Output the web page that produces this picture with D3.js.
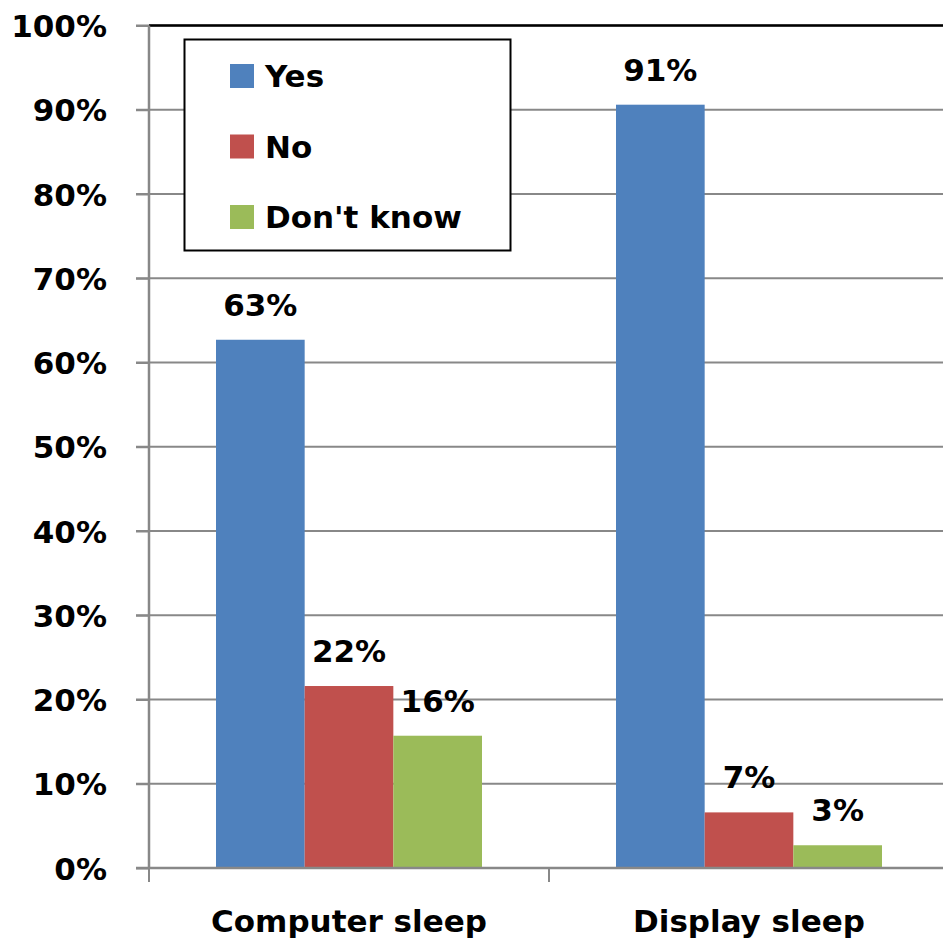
<!DOCTYPE html>
<html>
<head>
<meta charset="utf-8">
<script src="https://cdn.jsdelivr.net/npm/d3@7"></script>
<style>
  html, body { margin: 0; padding: 0; background: #fff; }
  svg { display: block; }
  text { font-family: "DejaVu Sans", sans-serif; font-weight: 700; fill: #000; }
</style>
</head>
<body>
<svg id="chart" width="943" height="949"></svg>
<script>
// Survey results: share of respondents per answer, by power-management feature
const categories = ["Computer sleep", "Display sleep"];
const seriesNames = ["Yes", "No", "Don't know"];
const yesValues = [0.627, 0.906];
const noValues = [0.216, 0.066];
const dontKnowValues = [0.157, 0.027];
const yTicks = [0, 0.1, 0.2, 0.3, 0.4, 0.5, 0.6, 0.7, 0.8, 0.9, 1.0];
const seriesColors = ["#4F81BD", "#C0504D", "#9BBB59"];

const seriesValues = [yesValues, noValues, dontKnowValues];
const rows = categories.map((c, i) => ({
  category: c,
  values: seriesNames.map((s, j) => ({ series: s, value: seriesValues[j][i] }))
}));

const FONT_SIZE = 31;
const svg = d3.select("#chart");
const plot = { left: 149, right: 949, top: 25.5, bottom: 868 };

const x0 = d3.scaleBand()
  .domain(categories)
  .range([plot.left, plot.right])
  .paddingInner(0.335)
  .paddingOuter(0.1675);
const x1 = d3.scaleBand()
  .domain(seriesNames)
  .range([0, x0.bandwidth()]);
const y = d3.scaleLinear().domain([0, 1]).range([plot.bottom, plot.top]);
const color = d3.scaleOrdinal().domain(seriesNames).range(seriesColors);
const pct = d3.format(".0%");

// Horizontal gridlines (the 100% line is the black plot border)
svg.append("g")
  .selectAll("line")
  .data(yTicks.filter(t => t > 0))
  .join("line")
  .attr("x1", plot.left - 13)
  .attr("x2", plot.right)
  .attr("y1", d => y(d))
  .attr("y2", d => y(d))
  .attr("stroke", "#888")
  .attr("stroke-width", 2);

svg.append("line")
  .attr("x1", plot.left).attr("x2", plot.right)
  .attr("y1", y(1)).attr("y2", y(1))
  .attr("stroke", "#000").attr("stroke-width", 2.5);

// Bars
const groups = svg.append("g")
  .selectAll("g")
  .data(rows)
  .join("g")
  .attr("transform", d => `translate(${x0(d.category)},0)`);

groups.selectAll("rect")
  .data(d => d.values)
  .join("rect")
  .attr("x", d => x1(d.series))
  .attr("width", x1.bandwidth())
  .attr("y", d => y(d.value))
  .attr("height", d => y(0) - y(d.value))
  .attr("fill", d => color(d.series));

// Value labels above each bar
groups.selectAll("text")
  .data(d => d.values)
  .join("text")
  .attr("x", d => x1(d.series) + x1.bandwidth() / 2)
  .attr("y", d => y(d.value) - 24)
  .attr("text-anchor", "middle")
  .attr("font-size", FONT_SIZE)
  .text(d => pct(d.value));

// Y axis
const yAxis = d3.axisLeft(y)
  .tickValues(yTicks)
  .tickFormat(pct)
  .tickSize(13)
  .tickPadding(29);
const gy = svg.append("g")
  .attr("transform", `translate(${plot.left},0)`)
  .call(yAxis);
gy.select(".domain").attr("stroke", "#888").attr("stroke-width", 2.5)
  .attr("d", `M0,${y(1)}V${y(0)}`);
gy.selectAll(".tick line").attr("stroke", "#888").attr("stroke-width", 2);
gy.selectAll(".tick text")
  .attr("font-size", FONT_SIZE)
  .attr("font-family", null)
  .attr("dy", "0.36em");

// X axis with category boundaries as tick marks
const xb = d3.scaleLinear().domain([0, categories.length]).range([plot.left, plot.right]);
const gx = svg.append("g");
gx.append("line")
  .attr("x1", plot.left - 13).attr("x2", plot.right)
  .attr("y1", y(0)).attr("y2", y(0))
  .attr("stroke", "#888").attr("stroke-width", 2.5);
gx.selectAll("line.tk")
  .data(d3.range(categories.length + 1))
  .join("line")
  .attr("class", "tk")
  .attr("x1", d => xb(d)).attr("x2", d => xb(d))
  .attr("y1", y(0)).attr("y2", y(0) + 14)
  .attr("stroke", "#888").attr("stroke-width", 2);
gx.selectAll("text")
  .data(categories)
  .join("text")
  .attr("x", d => x0(d) + x0.bandwidth() / 2)
  .attr("y", 932)
  .attr("text-anchor", "middle")
  .attr("font-size", FONT_SIZE)
  .text(d => d);

// Legend
const legend = svg.append("g");
legend.append("rect")
  .attr("x", 184.5).attr("y", 39.5)
  .attr("width", 326).attr("height", 211)
  .attr("fill", "#fff").attr("stroke", "#000").attr("stroke-width", 2);
const items = legend.selectAll("g.item")
  .data(seriesNames)
  .join("g")
  .attr("class", "item")
  .attr("transform", (d, i) => `translate(230,${76 + i * 70.5})`);
items.append("rect")
  .attr("x", 0).attr("y", -12)
  .attr("width", 24).attr("height", 24)
  .attr("fill", d => color(d));
items.append("text")
  .attr("x", 35).attr("y", 0)
  .attr("dy", "0.36em")
  .attr("font-size", FONT_SIZE)
  .text(d => d);
</script>
</body>
</html>
